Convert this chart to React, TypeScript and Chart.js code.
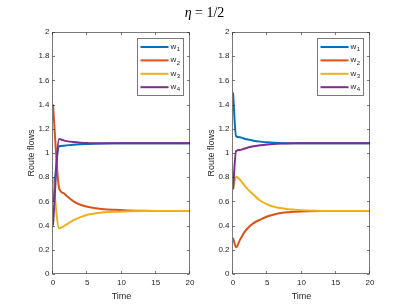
import React, { useEffect, useRef } from "react";
import { Chart, registerables } from "chart.js";

Chart.register(...registerables);

// ---- Data ----
const seriesNames = ["1", "2", "3", "4"]; // w subscripts
const seriesColors = ["#0072BD", "#D95319", "#EDB120", "#7E2F8E"];

const timeLeft = [0, 0.9, 1.5, 2, 3, 4, 5, 6, 7.5, 9, 11, 13, 16, 20];
const w1Left = [0.6, 1.056, 1.06, 1.063, 1.068, 1.072, 1.075, 1.077, 1.079, 1.08, 1.08, 1.08, 1.08, 1.08];
const w2Left = [1.4, 0.707, 0.67, 0.645, 0.6, 0.572, 0.555, 0.545, 0.535, 0.53, 0.525, 0.522, 0.521, 0.52];
const w3Left = [0.8, 0.377, 0.392, 0.41, 0.445, 0.47, 0.49, 0.5, 0.51, 0.515, 0.518, 0.52, 0.52, 0.52];
const w4Left = [0.4, 1.115, 1.105, 1.098, 1.09, 1.085, 1.082, 1.08, 1.08, 1.08, 1.08, 1.08, 1.08, 1.08];

const timeRight = [0, 0.45, 1, 1.5, 2, 3, 4, 5, 6, 7.5, 9, 11, 13, 16, 20];
const w1Right = [1.5, 1.139, 1.13, 1.122, 1.113, 1.102, 1.094, 1.088, 1.084, 1.081, 1.08, 1.08, 1.08, 1.08, 1.08];
const w2Right = [0.3, 0.222, 0.28, 0.33, 0.37, 0.42, 0.45, 0.475, 0.492, 0.508, 0.515, 0.519, 0.52, 0.52, 0.52];
const w3Right = [0.7, 0.803, 0.78, 0.745, 0.71, 0.655, 0.605, 0.575, 0.555, 0.54, 0.532, 0.525, 0.521, 0.52, 0.52];
const w4Right = [0.7, 1.017, 1.025, 1.033, 1.042, 1.055, 1.065, 1.071, 1.075, 1.078, 1.08, 1.08, 1.08, 1.08, 1.08];

const xTicks = [0, 5, 10, 15, 20];
const yMin = 0;
const yMax = 2;
const yStep = 0.2;
const xLabel = "Time";
const yLabel = "Route flows";

const FONT = "'Liberation Sans', Arial, Helvetica, sans-serif";
const TEXT = "#262626";
const AXIS = "rgba(38,38,38,0.62)";

const axesPlugin = {
  id: "matlabAxes",
  afterDraw(chart: any) {
    const { ctx, chartArea } = chart;
    const { left, right, top, bottom } = chartArea;
    const xs = chart.scales.x;
    const ys = chart.scales.y;
    ctx.save();
    ctx.strokeStyle = AXIS;
    ctx.lineWidth = 1;
    const L = Math.round(left) - 0.5;
    const R = Math.round(right) - 0.5;
    const T = Math.round(top) + 0.5;
    const B = Math.round(bottom) - 0.5;
    ctx.strokeRect(L, T, R - L, B - T);
    const tl = 2.5;
    ctx.beginPath();
    xs.ticks.forEach((t: any) => {
      const px = Math.round(xs.getPixelForValue(t.value)) - 0.5;
      ctx.moveTo(px, B);
      ctx.lineTo(px, B - tl);
      ctx.moveTo(px, T);
      ctx.lineTo(px, T + tl);
    });
    ys.ticks.forEach((t: any) => {
      const py = Math.round(ys.getPixelForValue(t.value)) + 0.5;
      ctx.moveTo(L, py);
      ctx.lineTo(L + tl, py);
      ctx.moveTo(R, py);
      ctx.lineTo(R - tl, py);
    });
    ctx.stroke();

    // legend
    const bw = 46;
    const bh = 57;
    const bx = Math.round(right - 7 - bw) + 0.5;
    const by = Math.round(top + 6) + 0.5;
    ctx.fillStyle = "#ffffff";
    ctx.fillRect(bx, by, bw, bh);
    ctx.strokeStyle = AXIS;
    ctx.strokeRect(bx, by, bw, bh);
    chart.data.datasets.forEach((ds: any, i: number) => {
      const y = by + 8.5 + i * 13.4;
      ctx.strokeStyle = ds.borderColor;
      ctx.lineWidth = 2;
      ctx.beginPath();
      ctx.moveTo(bx + 3, y);
      ctx.lineTo(bx + 31, y);
      ctx.stroke();
      ctx.fillStyle = TEXT;
      ctx.textBaseline = "middle";
      ctx.textAlign = "left";
      ctx.font = `8px ${FONT}`;
      ctx.fillText("w", bx + 33, y - 0.5);
      const ww = ctx.measureText("w").width;
      ctx.font = `6px ${FONT}`;
      ctx.fillText(ds.sub, bx + 33 + ww + 0.5, y + 2.5);
    });
    ctx.restore();
  },
};

function makeConfig(times: number[], series: number[][]) {
  return {
    type: "line" as const,
    data: {
      datasets: series.map((vals, i) => ({
        label: "w" + seriesNames[i],
        sub: seriesNames[i],
        data: times.map((t, k) => ({ x: t, y: vals[k] })),
        borderColor: seriesColors[i],
        backgroundColor: seriesColors[i],
        borderWidth: 2,
        pointRadius: 0,
        fill: false,
        cubicInterpolationMode: "monotone" as const,
        order: series.length - i,
      })),
    },
    options: {
      animation: false as const,
      responsive: false,
      maintainAspectRatio: false,
      devicePixelRatio: 1,
      layout: { padding: { left: 0, top: 32, right: 20, bottom: 0 } },
      plugins: {
        legend: { display: false },
        title: { display: false },
        tooltip: { enabled: false },
      },
      events: [],
      scales: {
        x: {
          type: "linear" as const,
          min: xTicks[0],
          max: xTicks[xTicks.length - 1],
          afterBuildTicks: (scale: any) => {
            scale.ticks = xTicks.map((v) => ({ value: v }));
          },
          afterFit: (scale: any) => {
            scale.height = 33;
          },
          grid: { display: false, drawTicks: false },
          border: { display: false },
          ticks: {
            color: TEXT,
            font: { family: FONT, size: 8 },
            padding: 4,
            maxRotation: 0,
            autoSkip: false,
          },
          title: {
            display: true,
            text: xLabel,
            color: TEXT,
            font: { family: FONT, size: 9 },
            padding: { top: 0, bottom: 5.5 },
          },
        },
        y: {
          type: "linear" as const,
          min: yMin,
          max: yMax,
          afterFit: (scale: any) => {
            scale.width = 53;
          },
          grid: { display: false, drawTicks: false },
          border: { display: false },
          ticks: {
            stepSize: yStep,
            color: TEXT,
            font: { family: FONT, size: 8 },
            padding: 3.5,
            autoSkip: false,
            callback: (v: any) => String(Math.round(Number(v) * 10) / 10),
          },
          title: {
            display: true,
            text: yLabel,
            color: TEXT,
            font: { family: FONT, size: 9 },
            padding: { top: 26.5, bottom: 0 },
          },
        },
      },
    },
    plugins: [axesPlugin],
  };
}

function Panel({ left, times, series }: { left: number; times: number[]; series: number[][] }) {
  const ref = useRef<HTMLCanvasElement | null>(null);
  useEffect(() => {
    if (!ref.current) return;
    const chart = new Chart(ref.current, makeConfig(times, series) as any);
    return () => chart.destroy();
  }, []);
  return (
    <canvas
      ref={ref}
      width={210}
      height={307}
      style={{ position: "absolute", left, top: 0, width: 210, height: 307 }}
    />
  );
}

export default function App() {
  return (
    <div
      style={{
        position: "fixed",
        left: 0,
        top: 0,
        width: 409,
        height: 307,
        background: "#ffffff",
        overflow: "hidden",
      }}
    >
      <Panel left={0} times={timeLeft} series={[w1Left, w2Left, w3Left, w4Left]} />
      <Panel left={180} times={timeRight} series={[w1Right, w2Right, w3Right, w4Right]} />
      <div
        style={{
          position: "absolute",
          left: 0,
          top: 4,
          width: 409,
          textAlign: "center",
          fontFamily: "'Liberation Serif', 'Times New Roman', serif",
          fontSize: 14,
          lineHeight: "18px",
          color: "#000",
        }}
      >
        <i>η</i> = 1/2
      </div>
    </div>
  );
}
